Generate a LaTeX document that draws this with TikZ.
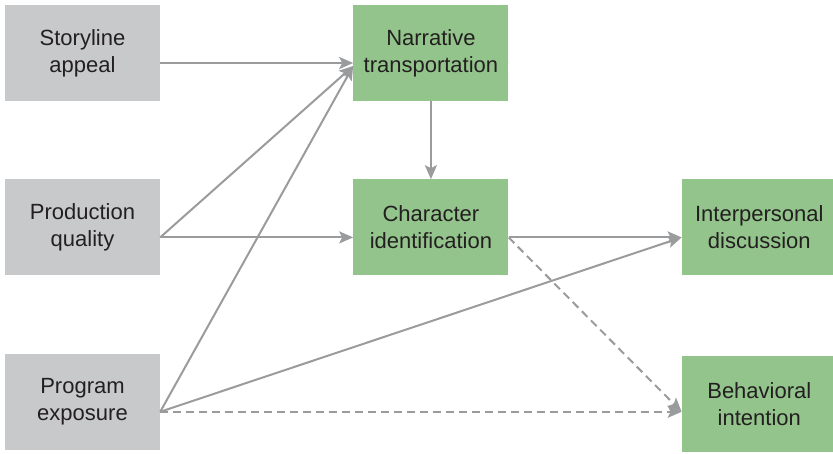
\documentclass[tikz,border=0pt]{standalone}
\usepackage{fontspec}
\setmainfont{Liberation Sans}
\usetikzlibrary{positioning,arrows.meta,calc}
\definecolor{boxgray}{HTML}{C8C9CB}
\definecolor{boxgreen}{HTML}{93C48B}
\definecolor{linegray}{HTML}{9A9B9D}
\definecolor{txt}{HTML}{231F20}
\tikzset{
	factor/.style={fill=boxgray, minimum width=155pt, minimum height=96pt, inner sep=0pt, align=center, text=txt, font=\fontsize{22}{27}\selectfont},
	outcome/.style={factor, fill=boxgreen},
	path/.style={draw=linegray, line width=2pt, -{Stealth[length=14pt,width=12pt,inset=3pt]}},
	nopath/.style={path, dash pattern=on 8pt off 5pt}
}

\begin{document}
\begin{tikzpicture}[node distance=78pt and 193pt]
		%%%%% START %%%%%
		
		\useasboundingbox (0,0) rectangle (833pt,-453pt);
		
		\node[factor] (story) at (82.5pt,-53pt) {Storyline\\appeal};
		\node[factor, below=of story] (prod) {Production\\quality};
		\node[factor, below=of prod] (expo) {Program\\exposure};
		
		\node[outcome, right=of story] (narr) {Narrative\\transportation};
		\node[outcome, below=of narr] (ident) {Character\\identification};
		\node[outcome, right=173pt of ident] (talk) {Interpersonal\\discussion};
		\node[outcome, below=80pt of talk] (intent) {Behavioral\\intention};
		
		\draw[path] ($(story.east)+(0,-10pt)$) -- ($(narr.west)+(0,-10pt)$);
		\draw[path] ($(prod.east)+(0,-10pt)$) -- ($(narr.west)+(0,-13pt)$);
		\draw[path] ($(expo.east)+(0,-10pt)$) -- ($(narr.west)+(0,-13pt)$);
		
		\draw[path] (narr.south) -- (ident.north);
		\draw[path] ($(prod.east)+(0,-10pt)$) -- ($(ident.west)+(0,-10pt)$);
		
		\draw[path] ($(ident.east)+(0,-10pt)$) -- ($(talk.west)+(0,-10pt)$);
		\draw[path] ($(expo.east)+(0,-10pt)$) -- ($(talk.west)+(0,-10pt)$);
		
		\draw[nopath] ($(ident.east)+(0,-10pt)$) -- ($(intent.west)+(0,-8pt)$);
		\draw[nopath] ($(expo.east)+(0,-10pt)$) -- ($(intent.west)+(0,-8pt)$);
		
		%%%%% END %%%%%
	\end{tikzpicture}
\end{document}
